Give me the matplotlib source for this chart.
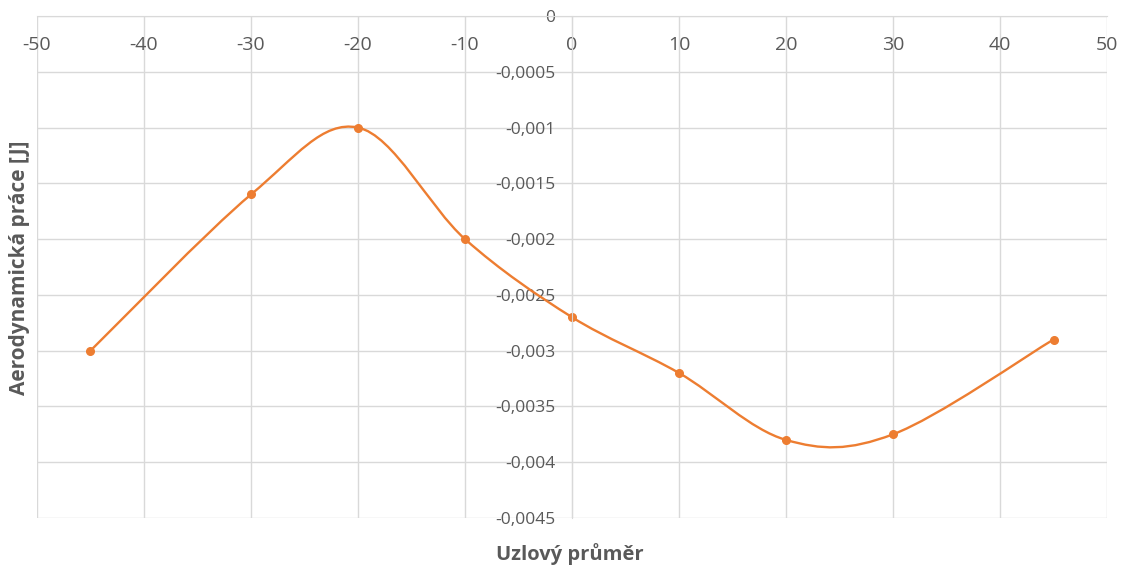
import matplotlib.pyplot as plt
from matplotlib.path import Path
from matplotlib.patches import PathPatch

plt.rcParams['font.family'] = ['Open Sans', 'DejaVu Sans']
plt.rcParams['axes.unicode_minus'] = False

uzlovy_prumer = [-45, -30, -20, -10, 0, 10, 20, 30, 45]
prace = [-0.003, -0.0016, -0.001, -0.002, -0.0027, -0.0032, -0.0038, -0.00375, -0.0029]

x_ticks = list(range(-50, 51, 10))
y_ticks = [0, -0.0005, -0.001, -0.0015, -0.002, -0.0025, -0.003, -0.0035, -0.004, -0.0045]
y_labels = ['0', '-0,0005', '-0,001', '-0,0015', '-0,002', '-0,0025', '-0,003', '-0,0035', '-0,004', '-0,0045']

orange = '#ED7D31'
grid_c = '#D9D9D9'
text_c = '#595959'

fig = plt.figure(figsize=(11.27, 5.70), dpi=100)
ax = fig.add_axes([37 / 1127, 1 - 518 / 570, 1070 / 1127, 502 / 570])

ax.set_xlim(-50, 50)
ax.set_ylim(-0.0045, 0)
ax.set_xticks(x_ticks)
ax.set_yticks(y_ticks)
ax.set_yticklabels(y_labels)
ax.grid(True, color=grid_c, linewidth=1)
ax.set_axisbelow(True)

# x axis sits at y=0 (top), y axis at x=0
for s in ['bottom', 'right']:
    ax.spines[s].set_visible(False)
ax.spines['top'].set_color(grid_c)
ax.spines['left'].set_position(('data', 0))
ax.spines['left'].set_color(grid_c)

ax.xaxis.tick_top()
ax.xaxis.set_tick_params(labeltop=True, labelbottom=False)
ax.tick_params(axis='x', length=0, labelsize=14, labelcolor=text_c, pad=-14.5)
for lab in ax.get_xticklabels():
    lab.set_va('top')
ax.tick_params(axis='y', length=0, labelsize=12.5, labelcolor=text_c, pad=12)

# smooth line (Excel-like bezier through the points)
pts = list(zip(uzlovy_prumer, prace))
verts = [pts[0]]
codes = [Path.MOVETO]
n = len(pts)
for i in range(n - 1):
    p0 = pts[max(i - 1, 0)]
    p1 = pts[i]
    p2 = pts[i + 1]
    p3 = pts[min(i + 2, n - 1)]
    c1 = (p1[0] + (p2[0] - p0[0]) / 6, p1[1] + (p2[1] - p0[1]) / 6)
    c2 = (p2[0] - (p3[0] - p1[0]) / 6, p2[1] - (p3[1] - p1[1]) / 6)
    verts += [c1, c2, p2]
    codes += [Path.CURVE4] * 3
ax.add_patch(PathPatch(Path(verts, codes), facecolor='none', edgecolor=orange,
                       linewidth=1.7, capstyle='round'))
ax.plot(uzlovy_prumer, prace, 'o', color=orange, markersize=5.5)

fig.text(570 / 1127, 1 - 554 / 570, 'Uzlový průměr', ha='center', va='center',
         fontsize=14.5, fontweight='bold', color=text_c)
fig.text(20 / 1127, 1 - 268 / 570, 'Aerodynamická práce [J]', ha='center', va='center',
         rotation=90, fontsize=15, fontweight='bold', color=text_c)

fig.savefig('out.png', dpi=100)
